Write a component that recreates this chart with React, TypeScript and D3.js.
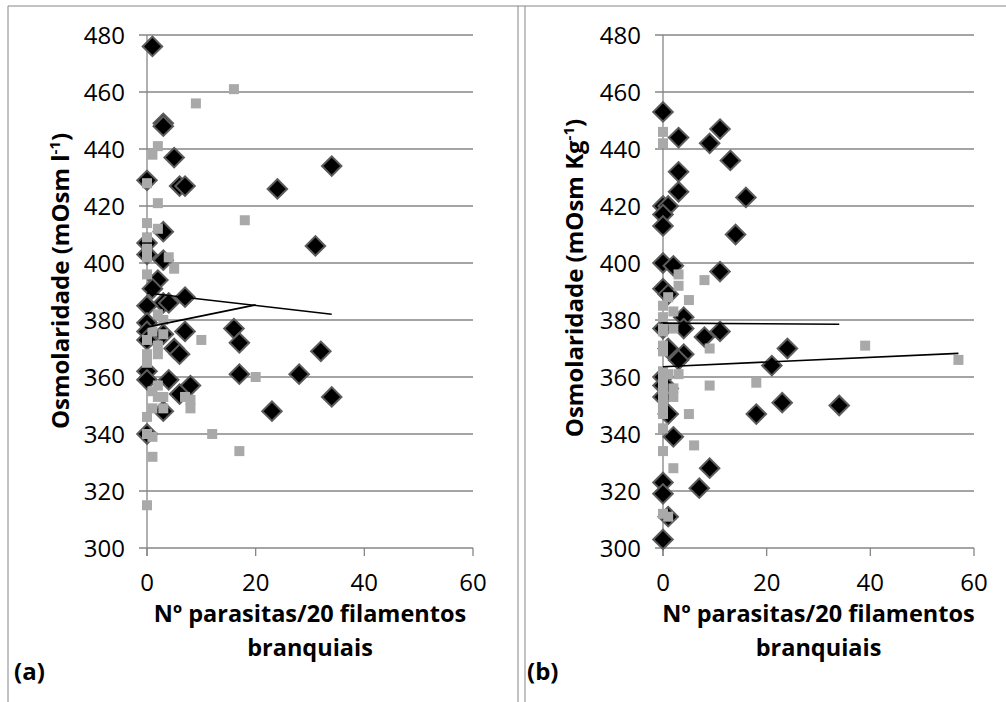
import React, { useRef, useEffect } from 'react';
import * as d3 from 'd3';

const xTicks = [0, 20, 40, 60];
const yTicks = [300, 320, 340, 360, 380, 400, 420, 440, 460, 480];

// panel (a): osmolaridade plasmática (mOsm l-1)
const aDiamonds: [number, number][] = [
  [1, 476], [3, 449], [3, 448], [5, 437], [0, 429], [6, 427], [7, 427], [24, 426], [34, 434],
  [3, 411], [0, 407], [31, 406], [0, 403], [3, 401], [2, 394], [1, 391], [7, 388], [3, 386],
  [4, 386], [0, 385], [0, 379], [16, 377], [7, 376], [0, 376], [0, 373], [3, 375], [17, 372],
  [5, 370], [6, 368], [32, 369], [0, 362], [0, 359], [4, 359], [17, 361], [28, 361], [8, 357],
  [6, 354], [3, 348], [23, 348], [34, 353], [0, 340],
];
const aSquares: [number, number][] = [
  [16, 461], [9, 456], [2, 441], [1, 438], [0, 428], [2, 421], [18, 415], [0, 414], [2, 412],
  [0, 409], [0, 405], [0, 402], [4, 402], [5, 398], [0, 396], [2, 382], [3, 380], [1, 376],
  [3, 375], [0, 373], [2, 371], [10, 373], [2, 368], [0, 368], [0, 365], [2, 357], [1, 355],
  [3, 353], [2, 353], [7, 353], [8, 352], [8, 349], [1, 349], [3, 349], [0, 346], [20, 360],
  [1, 339], [0, 340], [12, 340], [17, 334], [1, 332], [0, 315],
];
const aTrendDiamonds: [number, number][] = [[0, 389.5], [34, 382]];
const aTrendSquares: [number, number][] = [[0, 377.5], [20, 385.3]];

// panel (b): osmolalidade (mOsm Kg-1)
const bDiamonds: [number, number][] = [
  [0, 453], [3, 444], [11, 447], [9, 442], [13, 436], [3, 432], [3, 425], [16, 423], [0, 420],
  [1, 420], [0, 417], [0, 413], [14, 410], [0, 400], [2, 399], [11, 397], [0, 391], [1, 389],
  [4, 381], [4, 377], [0, 377], [8, 374], [11, 376], [1, 370], [4, 368], [3, 366], [24, 370],
  [21, 364], [0, 360], [0, 357], [1, 356], [0, 353], [1, 347], [18, 347], [23, 351], [34, 350],
  [2, 339], [9, 328], [0, 323], [0, 319], [7, 321], [1, 311], [0, 303],
];
const bSquares: [number, number][] = [
  [0, 446], [0, 442], [3, 396], [8, 394], [3, 392], [1, 388], [5, 387], [0, 385], [2, 383],
  [0, 381], [0, 377], [2, 377], [0, 376], [9, 370], [0, 371], [0, 369], [3, 361], [0, 362],
  [1, 361], [0, 359], [0, 356], [2, 356], [2, 353], [0, 353], [0, 350], [0, 347], [5, 347],
  [9, 357], [18, 358], [0, 342], [6, 336], [0, 334], [2, 328], [0, 312], [1, 311], [39, 371],
  [57, 366],
];
const bTrendDiamonds: [number, number][] = [[0, 378.9], [34, 378.5]];
const bTrendSquares: [number, number][] = [[0, 363.6], [57, 368.3]];

const FONT = "'Open Sans', sans-serif";
const GRID = '#868686';

function drawPanel(svg, p) {
  const x = d3.scaleLinear().domain([0, 60]).range([p.x0, p.x1]);
  const y = d3.scaleLinear().domain([300, 480]).range([548, 35]);
  const g = svg.append('g');

  g.selectAll('line.grid')
    .data(yTicks)
    .enter()
    .append('line')
    .attr('x1', x(0) - 8)
    .attr('x2', x(60))
    .attr('y1', (d) => y(d))
    .attr('y2', (d) => y(d))
    .attr('stroke', GRID)
    .attr('stroke-width', 1.3);

  g.append('line')
    .attr('x1', x(0))
    .attr('x2', x(0))
    .attr('y1', y(480))
    .attr('y2', y(300) + 8)
    .attr('stroke', GRID)
    .attr('stroke-width', 1.3);

  g.selectAll('line.xt')
    .data(xTicks)
    .enter()
    .append('line')
    .attr('x1', (d) => x(d))
    .attr('x2', (d) => x(d))
    .attr('y1', y(300))
    .attr('y2', y(300) + 8)
    .attr('stroke', GRID)
    .attr('stroke-width', 1.3);

  g.selectAll('text.yt')
    .data(yTicks)
    .enter()
    .append('text')
    .attr('x', x(0) - 22)
    .attr('y', (d) => y(d) + 8.5)
    .attr('text-anchor', 'end')
    .attr('font-family', FONT)
    .attr('font-size', 24)
    .text((d) => d);

  g.selectAll('text.xt')
    .data(xTicks)
    .enter()
    .append('text')
    .attr('x', (d) => x(d))
    .attr('y', 591)
    .attr('text-anchor', 'middle')
    .attr('font-family', FONT)
    .attr('font-size', 24)
    .text((d) => d);

  const diamond = d3.symbol(d3.symbolSquare, 190);
  g.selectAll('path.dia')
    .data(p.diamonds)
    .enter()
    .append('path')
    .attr('d', diamond)
    .attr('transform', (d) => `translate(${x(d[0])},${y(d[1])}) rotate(45)`)
    .attr('fill', '#000')
    .attr('stroke', '#5c5c5c')
    .attr('stroke-width', 2);

  g.selectAll('rect.sq')
    .data(p.squares)
    .enter()
    .append('rect')
    .attr('x', (d) => x(d[0]) - 5)
    .attr('y', (d) => y(d[1]) - 5)
    .attr('width', 10)
    .attr('height', 10)
    .attr('fill', '#a9a9a9');

  const line = d3
    .line()
    .x((d) => x(d[0]))
    .y((d) => y(d[1]));
  [p.trendD, p.trendS].forEach((t) => {
    g.append('path')
      .attr('d', line(t))
      .attr('fill', 'none')
      .attr('stroke', '#000')
      .attr('stroke-width', 1.6);
  });

  const cx = (x(0) + x(60)) / 2;
  const xt = g
    .append('text')
    .attr('text-anchor', 'middle')
    .attr('font-family', FONT)
    .attr('font-size', 23.5)
    .attr('font-weight', 'bold');
  xt.append('tspan').attr('x', cx).attr('y', 622).text('Nº parasitas/20 filamentos');
  xt.append('tspan').attr('x', cx).attr('y', 656).text('branquiais');

  const yt = g
    .append('text')
    .attr('transform', `translate(${p.titleX},${p.titleY}) rotate(-90)`)
    .attr('text-anchor', 'middle')
    .attr('font-family', FONT)
    .attr('font-size', 24)
    .attr('font-weight', 'bold');
  yt.append('tspan').text(`Osmolaridade (mOsm ${p.unit}`);
  yt.append('tspan').attr('font-size', 15).attr('dy', -9).text('-1');
  yt.append('tspan').attr('dy', 9).text(')');

  g.append('text')
    .attr('x', p.tagX)
    .attr('y', 680)
    .attr('font-family', FONT)
    .attr('font-size', 24)
    .attr('font-weight', 'bold')
    .text(p.tag);
}

export default function App() {
  const ref = useRef(null);

  useEffect(() => {
    const svg = d3.select(ref.current);
    svg.selectAll('*').remove();

    // frames
    svg.append('line').attr('x1', 8).attr('x2', 1006).attr('y1', 6).attr('y2', 6).attr('stroke', GRID);
    [8, 518, 525].forEach((fx) => {
      svg.append('line').attr('x1', fx).attr('x2', fx).attr('y1', 6).attr('y2', 702).attr('stroke', GRID);
    });

    drawPanel(svg, {
      x0: 147, x1: 473, diamonds: aDiamonds, squares: aSquares,
      trendD: aTrendDiamonds, trendS: aTrendSquares,
      unit: 'l', titleX: 69, titleY: 281, tag: '(a)', tagX: 14,
    });
    drawPanel(svg, {
      x0: 663, x1: 974, diamonds: bDiamonds, squares: bSquares,
      trendD: bTrendDiamonds, trendS: bTrendSquares,
      unit: 'Kg', titleX: 583, titleY: 278, tag: '(b)', tagX: 527,
    });
  }, []);

  return (
    <svg
      ref={ref}
      width={1006}
      height={702}
      style={{ position: 'absolute', left: 0, top: 0, background: '#fff' }}
    ></svg>
  );
}
